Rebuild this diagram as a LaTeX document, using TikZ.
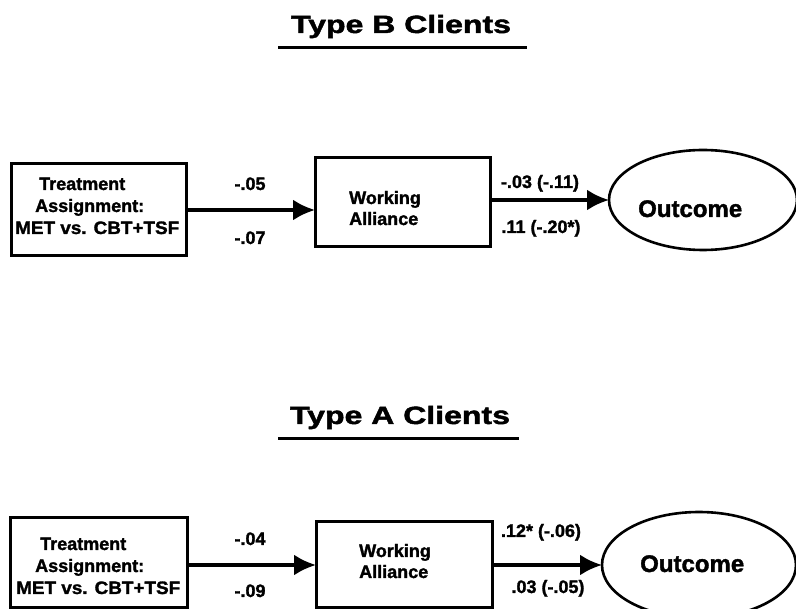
\documentclass[tikz,border=0pt]{standalone}
\usepackage{fontspec}
\setmainfont{Liberation Sans}
\newfontfamily\heavyfont{Liberation Sans Bold}[FakeBold=1.6]
\usetikzlibrary{arrows.meta,shapes.geometric}

\tikzset{
  box/.style={draw, line width=3pt, rectangle, inner sep=0pt, outer sep=0pt},
  oval/.style={draw, line width=2.6pt, ellipse, inner sep=0pt, outer sep=0pt},
  boxtext/.style={font=\fontsize{18}{20}\heavyfont, inner sep=0pt, anchor=base west},
  coef/.style={font=\fontsize{18}{20}\heavyfont, inner sep=0pt, anchor=base},
  outtext/.style={font=\fontsize{24}{26}\heavyfont, inner sep=0pt, anchor=base west},
  title/.style={font=\fontsize{25}{27}\heavyfont, inner sep=0pt, anchor=base, xscale=1.28, transform shape},
  widetext/.style={boxtext, xscale=1.05, transform shape},
  path arrow/.style={line width=3.4pt, -{Latex[length=22pt,width=21pt]}},
  rule/.style={line width=3pt}
}

\begin{document}
\begin{tikzpicture}[x=1pt,y=-1pt]
\useasboundingbox (0,0) rectangle (796,609);
\clip (0,0) rectangle (796,609);

% ---------------- Type B clients ----------------
\node[title] (titleB) at (401,33) {Type B Clients};
\coordinate (ulBa) at (278,48);
\coordinate (ulBb) at (527,48);
\draw[rule] (ulBa) -- (ulBb);

\node[box, minimum width=175, minimum height=92] (treatB) at (98.5,210) {};
\node[boxtext] (treatB1) at (39,190) {Treatment};
\node[boxtext] (treatB2) at (35,212) {Assignment:};
\node[widetext] (treatB3) at (15,234) {MET vs. CBT+TSF};

\node[box, minimum width=175, minimum height=89] (allyB) at (402.5,202.5) {};
\node[boxtext] (allyB1) at (349,204) {Working};
\node[boxtext] (allyB2) at (349,225) {Alliance};

\node[oval, minimum width=188, minimum height=100] (outB) at (703,200) {};
\node[outtext] (outB1) at (638,217) {Outcome};

\draw[path arrow] (treatB.east) -- (treatB.east -| allyB.west);
\coordinate (jB) at (allyB.east |- outB.west);
\draw[path arrow] (jB) -- (outB.west);

\node[coef] (cB1) at (250,190) {-.05};
\node[coef] (cB2) at (250,244) {-.07};
\node[coef] (cB3) at (540,188) {-.03 (-.11)};
\node[coef] (cB4) at (541,233) {.11 (-.20*)};

% ---------------- Type A clients ----------------
\node[title] (titleA) at (400,424) {Type A Clients};
\coordinate (ulAa) at (278,439);
\coordinate (ulAb) at (519,439);
\draw[rule] (ulAa) -- (ulAb);

\node[box, minimum width=177, minimum height=90] (treatA) at (98.5,563) {};
\node[boxtext] (treatA1) at (40,550) {Treatment};
\node[boxtext] (treatA2) at (35,572) {Assignment:};
\node[widetext] (treatA3) at (16,594) {MET vs. CBT+TSF};

\node[box, minimum width=176, minimum height=86] (allyA) at (404,565) {};
\node[boxtext] (allyA1) at (359,557) {Working};
\node[boxtext] (allyA2) at (359,578) {Alliance};

\node[oval, minimum width=194, minimum height=106] (outA) at (699,565) {};
\node[outtext] (outA1) at (640,572) {Outcome};

\draw[path arrow] (treatA.east |- allyA.west) -- (allyA.west);
\draw[path arrow] (allyA.east) -- (outA.west);

\node[coef] (cA1) at (250,545) {-.04};
\node[coef] (cA2) at (250,597) {-.09};
\node[coef] (cA3) at (541,537) {.12* (-.06)};
\node[coef] (cA4) at (548,593) {.03 (-.05)};
\end{tikzpicture}
\end{document}
